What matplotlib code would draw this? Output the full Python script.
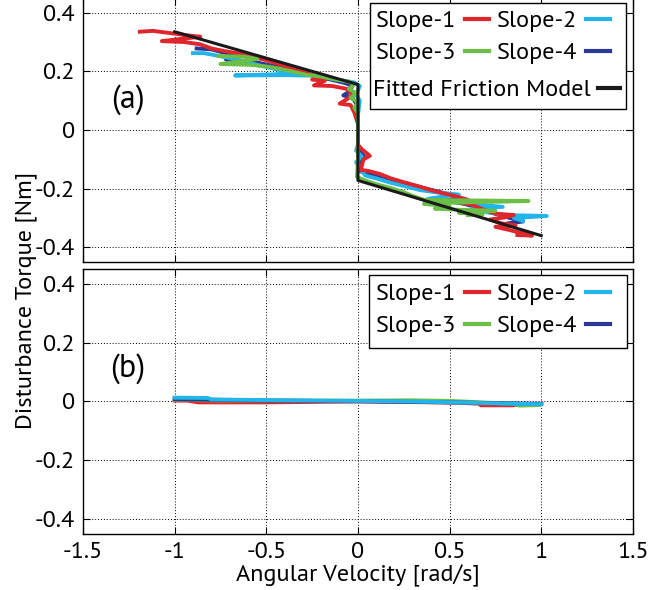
import matplotlib
matplotlib.use("Agg")
import matplotlib.pyplot as plt
from matplotlib.lines import Line2D
from matplotlib.patches import Rectangle

plt.rcParams['font.family'] = ['PT Sans', 'DejaVu Sans']

# ---- panel (a): measured disturbance torque vs angular velocity ----
vel_a1 = [-1.19, -1.12, -1.02, -0.92, -0.86, -1.07, -0.95, -0.86, -0.80, -0.72, -0.66, -0.58,
          -0.50, -0.42, -0.35, -0.28, -0.22, -0.25, -0.18, -0.24, -0.14, -0.06, -0.03, -0.06,
          -0.10, -0.04, -0.02, 0.0, 0.0, 0.02, 0.065, 0.03, 0.02, 0.01, 0.06, 0.12, 0.18, 0.25,
          0.32, 0.40, 0.46, 0.53, 0.60, 0.56, 0.62, 0.68, 0.75, 0.85, 0.80, 0.72, 0.78, 0.86,
          0.75, 0.82, 0.90, 0.95, 0.87]
trq_a1 = [0.335, 0.338, 0.330, 0.322, 0.318, 0.303, 0.300, 0.292, 0.278, 0.268, 0.262, 0.250,
          0.238, 0.222, 0.208, 0.195, 0.180, 0.172, 0.168, 0.152, 0.150, 0.140, 0.120, 0.105,
          0.090, 0.085, 0.060, 0.020, -0.050, -0.065, -0.088, -0.100, -0.125, -0.135, -0.140,
          -0.150, -0.165, -0.178, -0.190, -0.205, -0.215, -0.225, -0.238, -0.248, -0.255,
          -0.270, -0.285, -0.290, -0.298, -0.305, -0.318, -0.325, -0.330, -0.340, -0.352,
          -0.360, -0.358]

vel_a2 = [-0.90, -0.84, -0.78, -0.70, -0.62, -0.55, -0.48, -0.40, -0.32, -0.45, -0.67, -0.40,
          -0.22, -0.12, -0.02, 0.01, -0.01, 0.01, 0.0, 0.0, -0.01, 0.02, -0.01, 0.01, 0.04,
          0.10, 0.18, 0.26, 0.34, 0.42, 0.55, 0.45, 0.38, 0.50, 0.58, 0.79, 0.62, 0.70, 0.80,
          1.03, 0.85, 0.90]
trq_a2 = [0.262, 0.262, 0.255, 0.245, 0.235, 0.222, 0.212, 0.200, 0.195, 0.190, 0.186, 0.187,
          0.185, 0.172, 0.162, 0.150, 0.120, 0.100, 0.050, -0.050, -0.070, -0.090, -0.110,
          -0.130, -0.155, -0.165, -0.180, -0.192, -0.205, -0.212, -0.220, -0.228, -0.235,
          -0.242, -0.250, -0.262, -0.268, -0.280, -0.290, -0.293, -0.300, -0.310]

vel_a3 = [-0.76, -0.62, -0.55, -0.75, -0.58, -0.48, -0.42, -0.35, -0.28, -0.20, -0.12, -0.05,
          -0.02, -0.05, -0.01, -0.04, 0.0, -0.02, 0.0, 0.0, -0.005, 0.04, 0.10, 0.18, 0.25,
          0.30, 0.36, 0.60, 0.93, 0.50, 0.36, 0.50, 0.42, 0.55, 0.75, 0.55, 0.68, 0.60]
trq_a3 = [0.252, 0.250, 0.242, 0.225, 0.222, 0.215, 0.208, 0.198, 0.188, 0.182, 0.172, 0.165,
          0.155, 0.140, 0.125, 0.110, 0.095, 0.075, 0.060, -0.100, -0.160, -0.172, -0.185,
          -0.198, -0.212, -0.225, -0.238, -0.240, -0.242, -0.248, -0.252, -0.260, -0.268,
          -0.272, -0.275, -0.282, -0.288, -0.290]

vel_a4 = [-0.88, -0.80, -0.74, -0.66, -0.72, -0.62, -0.55, -0.46, -0.38, -0.42, -0.32, -0.24,
          -0.15, -0.07, -0.03, -0.05, -0.08, -0.03, 0.0, 0.0, 0.02, 0.04, 0.01, 0.01, 0.06,
          0.12, 0.20, 0.28, 0.36, 0.44, 0.50, 0.56, 0.48, 0.58, 0.66, 0.72, 0.80, 0.90, 0.82]
trq_a4 = [0.278, 0.275, 0.265, 0.255, 0.240, 0.235, 0.230, 0.218, 0.210, 0.200, 0.196, 0.185,
          0.172, 0.160, 0.150, 0.130, 0.118, 0.110, 0.080, -0.060, -0.080, -0.095, -0.110,
          -0.140, -0.150, -0.160, -0.172, -0.185, -0.198, -0.210, -0.220, -0.235, -0.240,
          -0.252, -0.265, -0.280, -0.295, -0.312, -0.318]

# fitted Coulomb + viscous friction model
vel_fit = [-1.0, 0.0, 0.0, 1.0]
trq_fit = [0.335, 0.155, -0.172, -0.360]

# ---- panel (b): residual after compensation ----
vel_b1 = [-1.0, -0.93, -0.87, -0.5, 0.0, 0.3, 0.55, 0.67, 0.67, 0.84, 0.90, 1.0]
trq_b1 = [0.003, 0.003, -0.003, -0.003, 0.0, -0.002, -0.004, -0.008, -0.013, -0.013, -0.010, -0.008]
vel_b2 = [-1.0, -0.82, -0.80, -0.4, 0.0, 0.3, 0.6, 0.8, 1.0]
trq_b2 = [0.013, 0.012, 0.007, 0.004, 0.002, 0.0, -0.004, -0.007, -0.009]
vel_b3 = [-1.0, -0.92, -0.85, -0.4, 0.0, 0.3, 0.5, 0.85, 0.88, 0.99]
trq_b3 = [0.006, 0.007, 0.004, 0.003, 0.003, 0.004, 0.002, -0.008, -0.014, -0.012]
vel_b4 = [-1.0, -0.5, 0.0, 0.5, 1.0]
trq_b4 = [0.008, 0.003, 0.001, -0.003, -0.008]

labels = ['Slope-1', 'Slope-2', 'Slope-3', 'Slope-4']
colors = ['#e0262d', '#22b5e9', '#6bbf47', '#2b3896']
xticks = [-1.5, -1, -0.5, 0, 0.5, 1, 1.5]
xticklabels = ['-1.5', '-1', '-0.5', '0', '0.5', '1', '1.5']
yticks = [-0.4, -0.2, 0, 0.2, 0.4]
yticklabels = ['-0.4', '-0.2', '0', '0.2', '0.4']

FS = 17.5
fig = plt.figure(figsize=(6.5, 5.9), dpi=100)
ax1 = fig.add_axes([0.1277, 0.5559, 0.8460, 0.4475])
ax2 = fig.add_axes([0.1277, 0.0949, 0.8460, 0.4492])

LW = 2.8
ax1.plot(vel_a4, trq_a4, color=colors[3], lw=LW)
ax1.plot(vel_a2, trq_a2, color=colors[1], lw=LW)
ax1.plot(vel_a1, trq_a1, color=colors[0], lw=LW)
ax1.plot(vel_a3, trq_a3, color=colors[2], lw=LW)
ax1.plot(vel_fit, trq_fit, color='#1a1a1a', lw=2.2)

ax2.plot(vel_b1, trq_b1, color=colors[0], lw=LW)
ax2.plot(vel_b3, trq_b3, color=colors[2], lw=LW)
ax2.plot(vel_b4, trq_b4, color=colors[3], lw=LW)
ax2.plot(vel_b2, trq_b2, color=colors[1], lw=LW)

for ax in (ax1, ax2):
    ax.set_xlim(-1.5, 1.5)
    ax.set_ylim(-0.45, 0.45)
    ax.set_xticks(xticks)
    ax.set_yticks(yticks)
    ax.set_yticklabels(yticklabels, fontsize=FS)
    ax.tick_params(direction='in', length=5, width=0.8, top=True, right=True, pad=6)
    ax.grid(True, color='black', linestyle=(0, (1, 2)), linewidth=0.7)
    for sp in ax.spines.values():
        sp.set_linewidth(1.0)

ax1.set_xticklabels([])
ax2.set_xticklabels(xticklabels, fontsize=FS)
ax2.set_xlabel('Angular Velocity [rad/s]', fontsize=FS, labelpad=1)
fig.text(0.041, 0.49, 'Disturbance Torque [Nm]', rotation=90, fontsize=FS,
         ha='center', va='center')

ax1.text(0.082, 0.614, '(a)', transform=ax1.transAxes, fontsize=23, ha='center', va='center')
ax2.text(0.082, 0.626, '(b)', transform=ax2.transAxes, fontsize=23, ha='center', va='center')

# legends: two rows of slopes (row-wise), plus fitted model row in panel (a), in one frame
def slope_handles():
    return [Line2D([], [], color=c, lw=3) for c in colors]

order = [0, 2, 1, 3]
leg_kw = dict(ncol=2, markerfirst=False, frameon=False, fontsize=FS, handlelength=1.0,
              handletextpad=0.35, columnspacing=0.3, labelspacing=0.42, borderpad=0.2,
              borderaxespad=0, loc='upper right')

h = slope_handles()
leg_a = ax1.legend([h[i] for i in order], [labels[i] for i in order],
                   bbox_to_anchor=(0.967, 0.972), **leg_kw)
ax1.add_artist(leg_a)
ax1.legend([Line2D([], [], color='#1a1a1a', lw=3)], ['Fitted Friction Model'],
           markerfirst=False, frameon=False, fontsize=FS, handlelength=0.9,
           handletextpad=0.3, borderpad=0.2, borderaxespad=0, loc='upper right',
           bbox_to_anchor=(0.985, 0.71))
ax1.add_patch(Rectangle((0.5218, 0.5795), 0.4655, 0.4015, transform=ax1.transAxes,
                        facecolor='white', edgecolor='black', lw=1.0, zorder=4))

h = slope_handles()
ax2.legend([h[i] for i in order], [labels[i] for i in order],
           bbox_to_anchor=(0.967, 0.965), **leg_kw)
ax2.add_patch(Rectangle((0.52, 0.702), 0.469, 0.275, transform=ax2.transAxes,
                        facecolor='white', edgecolor='black', lw=1.0, zorder=4))

fig.savefig('out.png', dpi=100)
